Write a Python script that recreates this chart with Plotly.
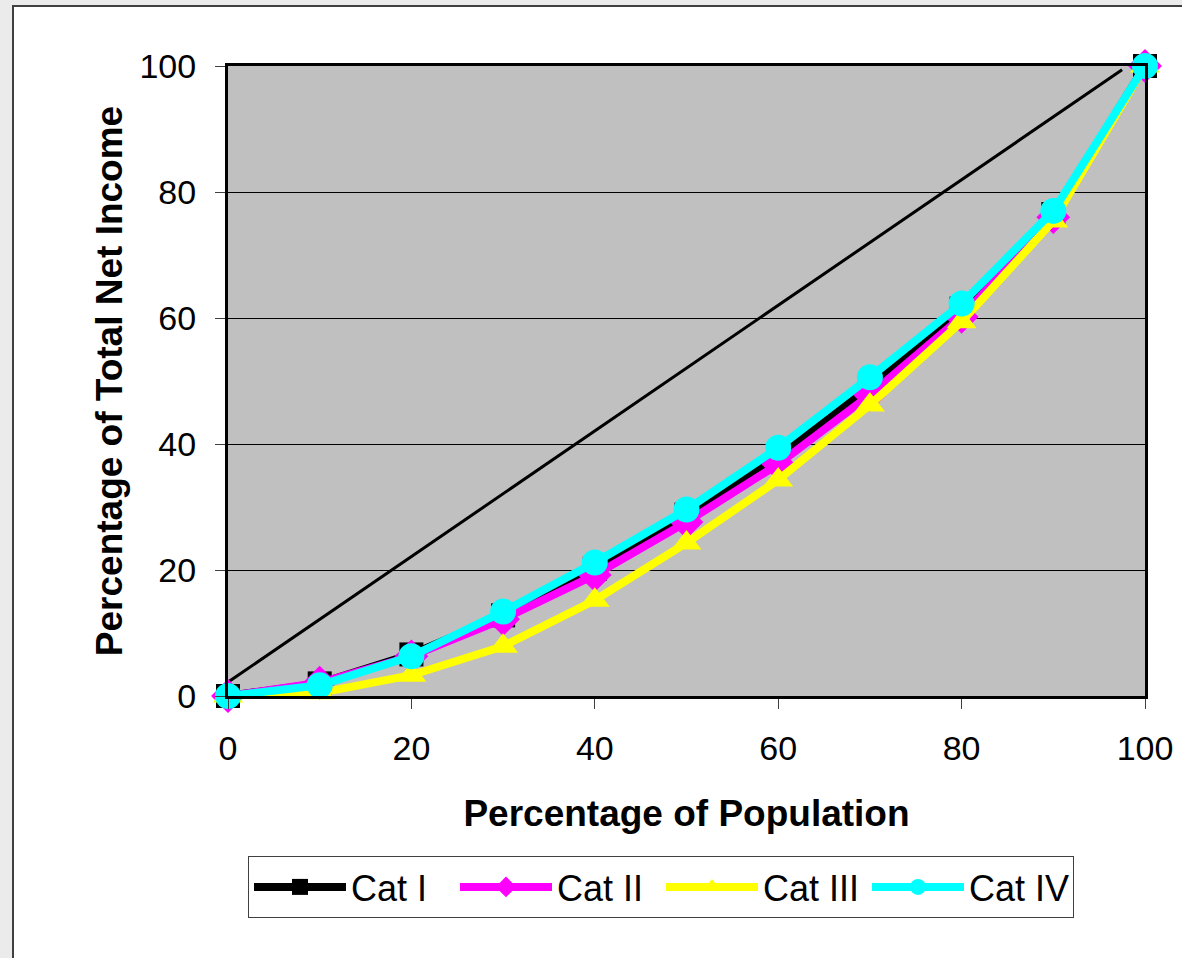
import plotly.graph_objects as go

population_pct = [0, 10, 20, 30, 40, 50, 60, 70, 80, 90, 100]
cat_i = [0, 2.0, 6.6, 12.8, 20.2, 28.8, 38.0, 49.0, 61.5, 76.5, 100]
cat_ii = [0, 2.1, 6.3, 12.2, 19.2, 27.6, 36.8, 47.8, 60.2, 76.0, 100]
cat_iii = [0, 0.5, 3.3, 7.9, 15.2, 24.3, 34.3, 46.2, 59.4, 75.4, 100]
cat_iv = [0, 1.7, 6.3, 13.4, 21.2, 29.6, 39.4, 50.6, 62.3, 77.0, 100]

equality_x = [-1.6, 97.5]
equality_y = [0.6, 99.4]

tick_vals = [0, 20, 40, 60, 80, 100]
tick_text = ["0", "20", "40", "60", "80", "100"]

series = [
    ("Cat I", cat_i, "#000000", "square", 24),
    ("Cat II", cat_ii, "#FF00FF", "diamond", 26),
    ("Cat III", cat_iii, "#FFFF00", "triangle-up", 26),
    ("Cat IV", cat_iv, "#00FFFF", "circle", 26),
]

FONT = "Liberation Sans, Arial, sans-serif"

fig = go.Figure()
fig.add_trace(go.Scatter(
    x=equality_x, y=equality_y, mode="lines",
    line=dict(color="black", width=3), showlegend=False,
    cliponaxis=False, hoverinfo="skip"))

for name, vals, color, sym, size in series:
    fig.add_trace(go.Scatter(
        x=population_pct, y=vals, name=name, mode="lines+markers",
        line=dict(color=color, width=8),
        marker=dict(symbol=sym, size=size, color=color, line=dict(width=0)),
        cliponaxis=False))

W, H = 1182, 958
ml, mr, mt, mb = 228, 37, 66, 262
pw, ph = W - ml - mr, H - mt - mb

def px_x(p):
    return (p - ml) / pw

def px_y(p):
    return (H - mb - p) / ph

shapes = [
    dict(type="rect", xref="paper", yref="paper", x0=px_x(-10), x1=px_x(13), y0=px_y(1000), y1=px_y(-10),
         fillcolor="#EBEBEB", line=dict(width=0), layer="below"),
    dict(type="rect", xref="paper", yref="paper", x0=px_x(-10), x1=px_x(1200), y0=px_y(6), y1=px_y(-10),
         fillcolor="#EBEBEB", line=dict(width=0), layer="below"),
    dict(type="rect", xref="paper", yref="paper", x0=px_x(13), x1=px_x(1200), y0=px_y(1000), y1=px_y(6),
         fillcolor="rgba(0,0,0,0)", line=dict(width=2, color="#404040"), layer="below"),
]

axis_common = dict(
    range=[0, 100], tickmode="array", tickvals=tick_vals, ticktext=tick_text,
    showline=True, linewidth=3, linecolor="black", mirror=True,
    ticks="outside", ticklen=10, tickwidth=1, tickcolor="#404040",
    tickfont=dict(family=FONT, size=34, color="black"),
    zeroline=False, automargin=False,
)

fig.update_layout(
    width=W, height=H,
    margin=dict(l=ml, r=mr, t=mt, b=mb, autoexpand=False),
    paper_bgcolor="white", plot_bgcolor="#C0C0C0",
    shapes=shapes,
    xaxis=dict(**axis_common, showgrid=False, ticklabelstandoff=10,
               title=dict(text="<b>Percentage of Population</b>", standoff=35,
                          font=dict(family=FONT, size=37, color="black"))),
    yaxis=dict(**axis_common, showgrid=True, gridcolor="black", gridwidth=1,
               ticklabelstandoff=12,
               title=dict(text="<b>Percentage of Total Net Income</b>", standoff=6,
                          font=dict(family=FONT, size=37, color="black"))),
    legend=dict(orientation="h", x=px_x(248), y=px_y(856), xanchor="left", yanchor="top",
                bgcolor="white", bordercolor="#404040", borderwidth=1,
                font=dict(family=FONT, size=36, color="black"),
                itemwidth=92, entrywidth=99, entrywidthmode="pixels",
                itemsizing="trace"),
    showlegend=True,
)

fig.write_html("out.html")
